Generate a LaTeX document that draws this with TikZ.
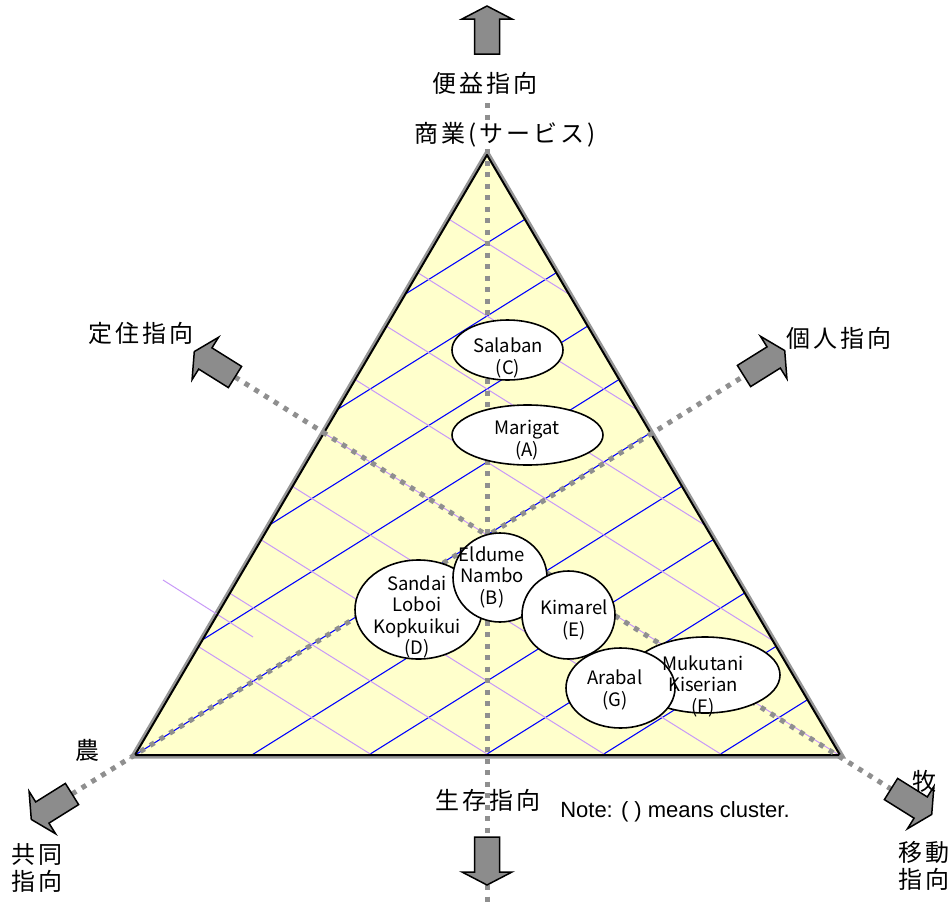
\documentclass[tikz,border=0pt]{standalone}
\usepackage{fontspec}
\usetikzlibrary{shapes.geometric}
\setmainfont{Liberation Sans}
\newfontfamily\jpfont[LetterSpace=12]{Noto Sans CJK JP}
\newfontfamily\jpin{Noto Sans CJK JP}
\definecolor{tri}{HTML}{FFFFCC}
\definecolor{hblue}{HTML}{0000FF}
\definecolor{hlav}{HTML}{C899F8}
\definecolor{dotg}{HTML}{8F8F8F}
\definecolor{arrg}{HTML}{8C8C8C}
\definecolor{edgeg}{HTML}{969696}
\begin{document}
\begin{tikzpicture}[x=1pt,y=-1pt,
  axis/.style={dotg, line width=5pt, dash pattern=on 5pt off 6.5pt},
  bluehatch/.style={hblue, line width=1.1pt},
  lavhatch/.style={hlav, line width=1pt},
  blob/.style={ellipse, draw=black, fill=white, line width=1.6pt, inner sep=0pt},
  blobtext/.style={font=\jpin\fontsize{18.5}{21.5}\selectfont, align=center, inner sep=0pt},
  lab/.style={font=\jpfont\fontsize{24}{27.5}\selectfont, inner sep=0pt, align=center},
  barrow/.style={fill=arrg, draw=black, line width=1.5pt, line join=miter}
]
\useasboundingbox (0,0) rectangle (951,908);
\coordinate (T) at (487,155);
\coordinate (L) at (135,755);
\coordinate (R) at (840,755);
\coordinate (O) at (487,535);
% triangle with grey rim
\draw[edgeg, line width=7pt, line join=miter] (T) -- (L) -- (R) -- cycle;
\fill[tri] (T) -- (L) -- (R) -- cycle;
\begin{scope}
  \clip (T) -- (L) -- (R) -- cycle;
  \foreach \k in {-4,...,5}{
    \pgfmathsetmacro\hc{839.4+73*\k}
    \draw[bluehatch] (100,\hc-62.5) -- (900,\hc-562.5);
  }
  \foreach \k in {-4,...,4}{
    \pgfmathsetmacro\hd{230.6+73*\k}
    \draw[lavhatch] (100,\hd+62.5) -- (900,\hd+562.5);
  }
\end{scope}
\draw[lavhatch] (163,580) -- (253,637);
\draw[black, line width=2pt, line join=miter] (T) -- (L) -- (R) -- cycle;
% dotted axes
\coordinate (vTop) at (487,103);
\coordinate (vBot) at (487,908);
\coordinate (aLL) at (72,794);
\coordinate (aUR) at (744,376);
\coordinate (bUL) at (235,377);
\coordinate (bLR) at (891,789);
\draw[axis] (vTop) -- (vBot);
\draw[axis] (aLL) -- (aUR);
\draw[axis] (bUL) -- (bLR);
% clusters
\node[blob, minimum width=111pt, minimum height=60pt] (eC) at (507.5,350) {};
\node[blob, minimum width=151pt, minimum height=60pt] (eA) at (527.5,435) {};
\node[blob, minimum width=127pt, minimum height=99pt] (eD) at (418.5,609.5) {};
\node[blob, minimum width=94pt, minimum height=89pt] (eB) at (500,577.5) {};
\node[blob, minimum width=93pt, minimum height=88pt] (eE) at (568.5,615) {};
\node[blob, minimum width=150pt, minimum height=76pt] (eF) at (705,675) {};
\node[blob, minimum width=109pt, minimum height=80pt] (eG) at (620.5,688) {};
\node[blobtext] (tC) at (508,358) {Salaban\\(C)};
\node[blobtext] (tA) at (527,440) {Marigat\\(A)};
\node[blobtext] (tB) at (492,577) {Eldume\\Nambo\\(B)};
\node[blobtext] (tD) at (417,617) {Sandai\\Loboi\\Kopkuikui\\(D)};
\node[blobtext] (tE) at (574,620) {Kimarel\\(E)};
\node[blobtext] (tG) at (615,690) {Arabal\\(G)};
\node[blobtext] (tF) at (703,686) {Mukutani\\Kiserian\\(F)};
% block arrows
\foreach \x/\y/\a in {487/54/90, 487/837/-90, 744/376/32, 235/377/148, 72/794/212, 891/789/-32}{
  \draw[barrow, shift={(\x,\y)}, rotate=\a]
    (0,-12.5) -- (35,-12.5) -- (35,-25) -- (48,0) -- (35,25) -- (35,12.5) -- (0,12.5) -- cycle;
}
% labels
\node[lab] (lTop) at (485,83) {便益指向};
\node[lab, fill=white, inner sep=2pt] (lCom) at (505,135) {商業(サービス)};
\node[lab] (lSet) at (141,333) {定住指向};
\node[lab] (lInd) at (839,338) {個人指向};
\node[lab] (lFarm) at (87,750) {農};
\node[lab] (lComm) at (37,868) {共同\\指向};
\node[lab] (lPas) at (924,781) {牧};
\node[lab] (lMob) at (924,866) {移動\\指向};
\node[lab] (lSub) at (488,800) {生存指向};
\node[font=\fontsize{22}{26}\selectfont, inner sep=0pt] (note) at (675,812) {Note: ( ) means cluster.};
\end{tikzpicture}
\end{document}
